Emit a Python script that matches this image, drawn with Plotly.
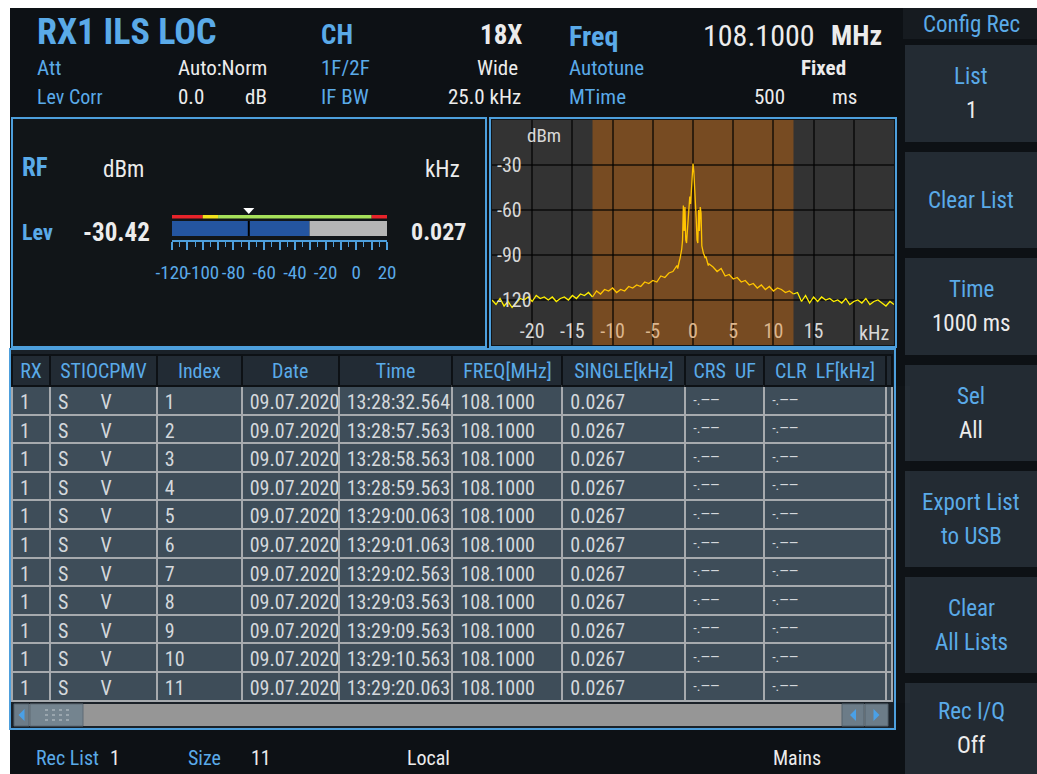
import plotly.graph_objects as go

W, H = 1037, 774
FONT = "Roboto Condensed, Liberation Sans Narrow, Arial Narrow, DejaVu Sans Condensed, sans-serif"
BLUE = "#5aaae8"
WHITE = "#ececec"
BORDER = "#4d9fdc"

# ---------------- data ----------------
TITLE = "RX1 ILS LOC"
CHANNEL = "18X"
FREQ_TEXT = "108.1000"
ATT_MODE = "Auto:Norm"
F_MODE = "Wide"
LEV_CORR_DB = "0.0"
IF_BW_TEXT = "25.0 kHz"
AUTOTUNE = "Fixed"
MTIME_MS = "500"

LEVEL_DBM = -30.42
OFFSET_KHZ = "0.027"
METER_MARKER_DBM = -70
METER_ZONE_EDGES = [-120, -100, -90, 10, 20]
METER_ZONE_COLORS = ["#e8232a", "#f2e21b", "#a6e05a", "#e8232a"]
METER_TICKVALS = [-120, -110, -100, -90, -80, -70, -60, -50, -40, -30, -20, -10, 0, 10, 20]
METER_TICKTEXT = ["-120", "", "-100", "", "-80", "", "-60", "", "-40", "", "-20", "", "0", "", "20"]

IF_BW_KHZ = 25.0
SPEC_X_TICKS = [-20, -15, -10, -5, 0, 5, 10, 15, 20]
SPEC_X_LABELS = ["-20", "-15", "-10", "-5", "0", "5", "10", "15", ""]
SPEC_Y_TICKS = [-120, -90, -60, -30]
SPEC_Y_LABELS = ["-120", "-90", "-60", "-30"]

SPEC_FREQ_KHZ = [
    -25.0, -24.5, -24.0, -23.5, -23.0, -22.5, -22.0, -21.5, -21.0, -20.5,
    -20.0, -19.5, -19.0, -18.5, -18.0, -17.5, -17.0, -16.5, -16.0, -15.5,
    -15.0, -14.5, -14.0, -13.5, -13.0, -12.5, -12.0, -11.5, -11.0, -10.5,
    -10.0, -9.5, -9.0, -8.5, -8.0, -7.5, -7.0, -6.5, -6.0, -5.5,
    -5.0, -4.5, -4.0, -3.5, -3.0, -2.5,
    -2.0, -1.9, -1.8, -1.7, -1.6, -1.5, -1.4, -1.3, -1.2, -1.1,
    -1.0, -0.9, -0.8, -0.7, -0.6, -0.5, -0.4, -0.3, -0.2, -0.1,
    0.0, 0.1, 0.2, 0.3, 0.4, 0.5, 0.6, 0.7, 0.8, 0.9,
    1.0, 1.1, 1.2, 1.3, 1.4, 1.5, 1.6, 1.7, 1.8, 1.9, 2.0,
    2.5, 3.0, 3.5, 4.0, 4.5, 5.0, 5.5, 6.0, 6.5, 7.0,
    7.5, 8.0, 8.5, 9.0, 9.5, 10.0, 10.5, 11.0, 11.5, 12.0,
    12.5, 13.0, 13.5, 14.0, 14.5, 15.0, 15.5, 16.0, 16.5, 17.0,
    17.5, 18.0, 18.5, 19.0, 19.5, 20.0, 20.5, 21.0, 21.5, 22.0,
    22.5, 23.0, 23.5, 24.0, 24.5, 25.0,
]
SPEC_LEVEL_DBM = [
    -120, -123, -119, -124, -121, -125, -122, -119, -120, -118,
    -121, -117, -119, -118, -120, -118, -121, -119, -118, -120,
    -117, -119, -116, -117, -115, -118, -114, -116, -113, -114,
    -112, -115, -113, -114, -111, -112, -110, -111, -108, -109,
    -107, -108, -104, -105, -102, -101,
    -97, -99, -95, -94, -92, -89, -86, -80, -57, -74,
    -58, -80, -82, -74, -66, -60, -51, -56, -45, -36,
    -29, -34, -44, -47, -66, -80, -82, -60, -74, -58,
    -62, -84, -87, -89, -90, -92, -91, -94, -95, -97, -96,
    -98, -101, -99, -104, -103, -106, -105, -108, -107, -110,
    -109, -112, -110, -113, -111, -114, -112, -113, -115, -114,
    -116, -115, -121, -117, -122, -118, -121, -118, -120, -119,
    -121, -120, -122, -119, -123, -121, -120, -122, -119, -123,
    -121, -120, -122, -124, -121, -123,
]

TABLE_HEADERS = ["RX", "STIOCPMV", "Index", "Date", "Time", "FREQ[MHz]",
                 "SINGLE[kHz]", "CRS\u00a0\u00a0UF", "CLR\u00a0\u00a0LF[kHz]", ""]
COL_RX = ["1"] * 11
COL_STATUS = ["S\u00a0\u00a0\u00a0\u00a0\u00a0\u00a0\u00a0V"] * 11
COL_INDEX = ["1", "2", "3", "4", "5", "6", "7", "8", "9", "10", "11"]
COL_DATE = ["09.07.2020"] * 11
COL_TIME = ["13:28:32.564", "13:28:57.563", "13:28:58.563", "13:28:59.563",
            "13:29:00.063", "13:29:01.063", "13:29:02.563", "13:29:03.563",
            "13:29:09.563", "13:29:10.563", "13:29:20.063"]
COL_FREQ = ["108.1000"] * 11
COL_SINGLE = ["0.0267"] * 11
COL_CRS = ["-.\u2014\u2014"] * 11
COL_CLR = ["-.\u2014\u2014"] * 11
COL_PAD = [""] * 11
COLUMN_WIDTHS = [38, 107, 85, 97, 114, 110, 123, 79, 122, 6]

SOFTKEYS = [
    [("List", BLUE), ("1", WHITE)],
    [("Clear List", BLUE)],
    [("Time", BLUE), ("1000 ms", WHITE)],
    [("Sel", BLUE), ("All", WHITE)],
    [("Export List", BLUE), ("to USB", BLUE)],
    [("Clear", BLUE), ("All Lists", BLUE)],
    [("Rec I/Q", BLUE), ("Off", WHITE)],
]
SOFTKEY_BOXES = [(45, 142), (152, 248), (258, 355), (365, 461), (471, 567), (577, 673), (683, 774)]

REC_LIST = "1"
REC_SIZE = "11"

# ---------------- figure ----------------
fig = go.Figure()
shapes = []
annots = []


def rect(x0, y0, x1, y1, fill, line=None, lw=0, layer="below", xref="x", yref="y"):
    shapes.append(dict(type="rect", x0=x0, y0=y0, x1=x1, y1=y1, xref=xref, yref=yref,
                       fillcolor=fill, line=dict(color=line or fill, width=lw), layer=layer))


def text(x, y, s, size, color, bold=False, xanchor="left", xref="x", yref="y"):
    annots.append(dict(x=x, y=y, xref=xref, yref=yref, text=f"<b>{s}</b>" if bold else s,
                       showarrow=False, xanchor=xanchor, yanchor="middle",
                       font=dict(family=FONT, size=size, color=color)))


# backgrounds (pixel axes)
rect(10, 8, W, H, "#0d1115")
rect(12, 118, 486, 347, "#111518", BORDER, 2)
rect(490, 118, 896, 347, "#111518", BORDER, 2)
rect(10, 349, 895, 729, "#1a2128", BORDER, 2)

# spectrum background and IF band (spectrum axes)
half = IF_BW_KHZ / 2
rect(-25, -150, 25, 0, "#333333", xref="x2", yref="y2")
rect(-half, -150, half, 0, "#774b22", xref="x2", yref="y2")

# scrollbar
rect(14, 704, 888, 726, "#969696")
rect(14, 704, 29, 726, "#6c7c88", "#55626c", 1)
rect(30, 704, 83, 726, "#74848f", "#5e6b75", 1)
rect(842, 704, 864, 726, "#6c7c88", "#55626c", 1)
rect(865, 704, 888, 726, "#6c7c88", "#55626c", 1)
for cx, d in [(21.5, -1), (853, -1), (876.5, 1)]:
    shapes.append(dict(type="path", xref="x", yref="y",
                       path=f"M {cx - 3 * d},{709} L {cx + 3 * d},{715} L {cx - 3 * d},{721} Z",
                       fillcolor="#4aa0e6", line=dict(width=0), layer="below"))
for gx in [45, 52, 59, 66]:
    for gy in [710, 715, 720]:
        rect(gx, gy - 1, gx + 3, gy + 1, "#9aa6ae")

# softkeys
rect(903, 8, W, 39, "#161b20")
text(971, 24, "Config Rec", 23, BLUE, xanchor="center")
for (top, bot), lines in zip(SOFTKEY_BOXES, SOFTKEYS):
    rect(905, top, W, bot, "#232b33")
    c = (top + bot) / 2
    if len(lines) == 1:
        text(971, c, lines[0][0], 23, lines[0][1], xanchor="center")
    else:
        text(971, c - 17, lines[0][0], 23, lines[0][1], xanchor="center")
        text(971, c + 17, lines[1][0], 23, lines[1][1], xanchor="center")

# header
text(35, 32, TITLE, 36, BLUE, bold=True)
text(319, 35, "CH", 27, BLUE, bold=True)
text(524, 35, CHANNEL, 27, WHITE, bold=True, xanchor="right")
text(567, 36, "Freq", 28, BLUE, bold=True)
text(701, 35, FREQ_TEXT, 30, WHITE)
text(884, 35, "MHz", 28, WHITE, bold=True, xanchor="right")
text(35, 68, "Att", 21, BLUE)
text(176, 68, ATT_MODE, 21, WHITE)
text(319, 68, "1F/2F", 21, BLUE)
text(520, 68, F_MODE, 21, WHITE, xanchor="right")
text(567, 68, "Autotune", 21, BLUE)
text(848, 68, AUTOTUNE, 21, WHITE, bold=True, xanchor="right")
text(35, 97, "Lev Corr", 20, BLUE)
text(176, 97, LEV_CORR_DB, 21, WHITE)
text(243, 97, "dB", 21, WHITE)
text(319, 97, "IF BW", 21, BLUE)
text(523, 97, IF_BW_TEXT, 21, WHITE, xanchor="right")
text(567, 97, "MTime", 21, BLUE)
text(787, 97, MTIME_MS, 21, WHITE, xanchor="right")
text(830, 97, "ms", 21, WHITE)

# RF panel
text(20, 167, "RF", 25, BLUE, bold=True)
text(101, 169, "dBm", 23, WHITE)
text(423, 169, "kHz", 23, WHITE)
text(20, 232, "Lev", 22, BLUE, bold=True)
text(152, 232, f"{LEVEL_DBM:.2f}", 25, WHITE, bold=True, xanchor="right")
text(469, 232, OFFSET_KHZ, 24, WHITE, bold=True, xanchor="right")

# meter
for i, col in enumerate(METER_ZONE_COLORS):
    shapes.append(dict(type="rect", xref="x3", yref="y", x0=METER_ZONE_EDGES[i], x1=METER_ZONE_EDGES[i + 1],
                       y0=215, y1=218.5, fillcolor=col, line=dict(width=0), layer="above"))
shapes.append(dict(type="rect", xref="x3", yref="y", x0=-120, x1=LEVEL_DBM, y0=221, y1=236,
                   fillcolor="#2455a0", line=dict(width=0), layer="above"))
shapes.append(dict(type="rect", xref="x3", yref="y", x0=LEVEL_DBM, x1=20, y0=221, y1=236,
                   fillcolor="#b5b5b5", line=dict(width=0), layer="above"))
shapes.append(dict(type="line", xref="x3", yref="y", x0=METER_MARKER_DBM, x1=METER_MARKER_DBM, y0=221, y1=236,
                   line=dict(color="#000000", width=2), layer="above"))
shapes.append(dict(type="path", xref="x3", yref="y",
                   path=f"M {METER_MARKER_DBM - 3.6},208 L {METER_MARKER_DBM + 3.6},208 L {METER_MARKER_DBM},214 Z",
                   fillcolor="#ffffff", line=dict(width=0), layer="above"))

# status bar
text(34, 758, "Rec List", 20, BLUE)
text(108, 758, REC_LIST, 20, WHITE)
text(186, 758, "Size", 20, BLUE)
text(249, 758, REC_SIZE, 20, WHITE)
text(405, 758, "Local", 20, WHITE)
text(771, 758, "Mains", 20, WHITE)

# spectrum axis labels
text(-18.5, -10, "dBm", 19, "#d8d8d8", xanchor="center", xref="x2", yref="y2")
text(22.5, -142, "kHz", 20, "#d8d8d8", xanchor="center", xref="x2", yref="y2")

# anchor main pixel axes and the meter axes
fig.add_trace(go.Scatter(x=[0, W], y=[0, H], mode="markers", marker=dict(opacity=0),
                         hoverinfo="skip", showlegend=False, xaxis="x", yaxis="y"))
fig.add_trace(go.Scatter(x=[-120, 20], y=[0, 1], mode="markers", marker=dict(opacity=0),
                         hoverinfo="skip", showlegend=False, xaxis="x3", yaxis="y3"))

# spectrum traces (yellow outside, gold inside the IF band)
segs = [
    ([f for f in SPEC_FREQ_KHZ if f <= -half], "#fff000"),
    ([f for f in SPEC_FREQ_KHZ if -half <= f <= half], "#ffc400"),
    ([f for f in SPEC_FREQ_KHZ if f >= half], "#fff000"),
]
for xs, col in segs:
    ys = [SPEC_LEVEL_DBM[SPEC_FREQ_KHZ.index(f)] for f in xs]
    fig.add_trace(go.Scatter(x=xs, y=ys, mode="lines", line=dict(color=col, width=1.3),
                             xaxis="x2", yaxis="y2", showlegend=False, hoverinfo="skip"))

# table
cell_cols = [COL_RX, COL_STATUS, COL_INDEX, COL_DATE, COL_TIME, COL_FREQ, COL_SINGLE, COL_CRS, COL_CLR, COL_PAD]
fig.add_trace(go.Table(
    domain=dict(x=[12 / W, 893 / W], y=[1 - 704 / H, 1 - 355 / H]),
    columnwidth=COLUMN_WIDTHS,
    header=dict(values=TABLE_HEADERS, fill_color="#222b34", line=dict(color="#0d1115", width=2),
                font=dict(family=FONT, size=20, color=BLUE), align="center", height=31),
    cells=dict(values=cell_cols, fill_color="#3e4d59", line=dict(color="#a6aaae", width=2),
               font=dict(family=FONT, size=[20, 20, 20, 20, 20, 20, 20, 14, 14, 14], color="#d4d8dc"),
               align="left", height=28.6),
))

in_band = [abs(v) < half for v in SPEC_X_TICKS]
xt_text = [f'<span style="color:#dcb68e">{t}</span>' if b else t for t, b in zip(SPEC_X_LABELS, in_band)]

fig.update_layout(
    width=W, height=H, margin=dict(l=0, r=0, t=0, b=0, autoexpand=False),
    paper_bgcolor="#ffffff", plot_bgcolor="rgba(0,0,0,0)",
    showlegend=False,
    xaxis=dict(domain=[0, 1], range=[0, W], visible=False, fixedrange=True, automargin=False),
    yaxis=dict(domain=[0, 1], range=[H, 0], visible=False, fixedrange=True, automargin=False),
    xaxis2=dict(domain=[492 / W, 894 / W], range=[-25, 25], anchor="y2", tickmode="array",
                tickvals=SPEC_X_TICKS, ticktext=xt_text, ticklabelposition="inside", ticks="",
                showgrid=True, gridcolor="rgba(0,0,0,0.6)", gridwidth=1.5, zeroline=False,
                showline=False, tickfont=dict(family=FONT, size=20, color="#d8d8d8"), fixedrange=True,
                automargin=False, tickangle=0),
    yaxis2=dict(domain=[1 - 345 / H, 1 - 120 / H], range=[-150, 0], anchor="x2", tickmode="array",
                tickvals=SPEC_Y_TICKS, ticktext=SPEC_Y_LABELS, ticklabelposition="inside", ticks="",
                showgrid=True, gridcolor="rgba(0,0,0,0.6)", gridwidth=1.5, zeroline=False,
                showline=False, tickfont=dict(family=FONT, size=20, color="#d8d8d8"), fixedrange=True,
                automargin=False, ticklabelstandoff=2),
    xaxis3=dict(domain=[172 / W, 387 / W], range=[-120, 20], anchor="y3", tickmode="array",
                tickvals=METER_TICKVALS, ticktext=METER_TICKTEXT, ticks="outside", ticklen=8,
                tickcolor=BORDER, tickwidth=1.5, showline=True, linecolor=BORDER, linewidth=1.5,
                showgrid=False, zeroline=False, ticklabelstandoff=6, tickangle=0, automargin=False,
                minor=dict(tickmode="linear", tick0=-120, dtick=5, ticks="outside", ticklen=5,
                           tickcolor=BORDER, tickwidth=1.2, showgrid=False),
                tickfont=dict(family=FONT, size=19, color=BLUE), fixedrange=True),
    yaxis3=dict(domain=[1 - 240 / H, 1 - 221 / H], range=[0, 1], anchor="x3", visible=False,
                fixedrange=True, automargin=False),
    shapes=shapes,
    annotations=annots,
)

fig.write_html("out.html", config={"displayModeBar": False},
               post_script="document.body.style.margin='0';document.body.style.overflow='hidden';")
